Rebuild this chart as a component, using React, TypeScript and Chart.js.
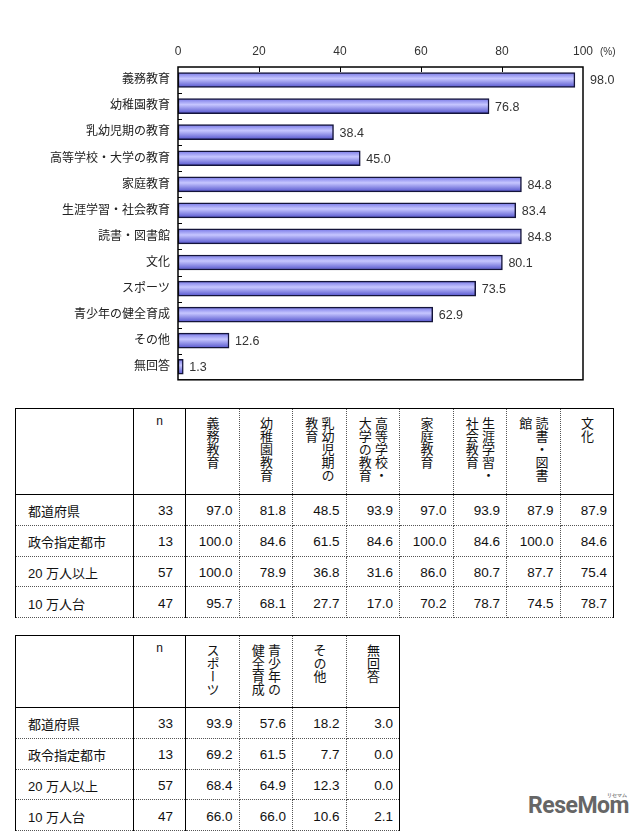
import { useEffect, useRef } from 'react';
import { Chart, registerables } from 'chart.js';

Chart.register(...registerables);

const FONT = '"Liberation Sans", "Noto Sans CJK JP", sans-serif';
const CJK = '"Noto Sans CJK JP", sans-serif';

// bar chart data
const categories = [
  '義務教育', '幼稚園教育', '乳幼児期の教育', '高等学校・大学の教育', '家庭教育',
  '生涯学習・社会教育', '読書・図書館', '文化', 'スポーツ', '青少年の健全育成', 'その他', '無回答',
];
const values = [98.0, 76.8, 38.4, 45.0, 84.8, 83.4, 84.8, 80.1, 73.5, 62.9, 12.6, 1.3];
const axisTicks = [0, 20, 40, 60, 80, 100];

// table data (12 columns, same order as the chart)
const rowLabels = ['都道府県', '政令指定都市', '20 万人以上', '10 万人台'];
const sampleSizes = [33, 13, 57, 47];
const prefValues = [97.0, 81.8, 48.5, 93.9, 97.0, 93.9, 87.9, 87.9, 93.9, 57.6, 18.2, 3.0];
const designatedValues = [100.0, 84.6, 61.5, 84.6, 100.0, 84.6, 100.0, 84.6, 69.2, 61.5, 7.7, 0.0];
const over200kValues = [100.0, 78.9, 36.8, 31.6, 86.0, 80.7, 87.7, 75.4, 68.4, 64.9, 12.3, 0.0];
const range100kValues = [95.7, 68.1, 27.7, 17.0, 70.2, 78.7, 74.5, 78.7, 66.0, 66.0, 10.6, 2.1];
const rowValues = [prefValues, designatedValues, over200kValues, range100kValues];

const headers1 = [['義務教育'], ['幼稚園教育'], ['乳幼児期の', '教育'], ['高等学校・', '大学の教育'],
  ['家庭教育'], ['生涯学習・', '社会教育'], ['読書・図書', '館'], ['文化']];
const headers2 = [['スポーツ'], ['青少年の', '健全育成'], ['その他'], ['無回答']];

const barFill = (c: any) => {
  const chart = c.chart;
  const y = chart.scales && chart.scales.y;
  if (!y || c.dataIndex === undefined) return '#9a9af5';
  const mid = y.getPixelForValue(c.dataIndex);
  if (!Number.isFinite(mid)) return '#9a9af5';
  const g = chart.ctx.createLinearGradient(0, mid - 7.5, 0, mid + 7.5);
  g.addColorStop(0, '#7676e6');
  g.addColorStop(0.4, '#c6c6ff');
  g.addColorStop(1, '#5252cc');
  return g;
};

const decorPlugin = {
  id: 'decor',
  afterDatasetsDraw(chart: any) {
    const { ctx, chartArea } = chart;
    const { left, right, top, bottom } = chartArea;
    const x = chart.scales.x;
    const y = chart.scales.y;
    ctx.save();
    ctx.strokeStyle = '#000';
    ctx.lineWidth = 1.5;
    ctx.strokeRect(left, top, right - left, bottom - top);

    ctx.lineWidth = 1;
    ctx.beginPath();
    axisTicks.slice(1, -1).forEach((v) => {
      const px = Math.round(x.getPixelForValue(v)) + 0.5;
      ctx.moveTo(px, top);
      ctx.lineTo(px, top + 5);
    });
    for (let i = 1; i < categories.length; i++) {
      const py = Math.round((y.getPixelForValue(i - 1) + y.getPixelForValue(i)) / 2) + 0.5;
      ctx.moveTo(left, py);
      ctx.lineTo(left + 4, py);
    }
    ctx.stroke();

    ctx.fillStyle = '#333';
    ctx.font = `12.5px ${FONT}`;
    ctx.textAlign = 'left';
    ctx.textBaseline = 'middle';
    chart.getDatasetMeta(0).data.forEach((bar: any, i: number) => {
      const label = values[i].toFixed(1);
      let tx = bar.x + 6;
      // keep the label off the frame line
      if (tx + ctx.measureText(label).width > right - 2) tx = right + 7;
      ctx.fillText(label, tx, bar.y + 1);
    });

    ctx.font = `10px ${FONT}`;
    ctx.fillText('(%)', x.getPixelForValue(100) + 17, 52);
    ctx.restore();
  },
};

function BarChart() {
  const canvasRef = useRef<HTMLCanvasElement>(null);

  useEffect(() => {
    if (!canvasRef.current) return;
    const chart = new Chart(canvasRef.current, {
      type: 'bar',
      data: {
        labels: categories,
        datasets: [{
          data: values,
          backgroundColor: barFill,
          borderColor: '#14143a',
          borderWidth: 1.5,
          borderSkipped: false,
          barThickness: 15,
        }],
      },
      options: {
        indexAxis: 'y',
        responsive: true,
        maintainAspectRatio: false,
        animation: false,
        layout: { padding: { left: 0, right: 57, top: 0, bottom: 13 } },
        plugins: { legend: { display: false }, tooltip: { enabled: false } },
        scales: {
          x: {
            position: 'top',
            min: 0,
            max: 100,
            afterBuildTicks: (s: any) => { s.ticks = axisTicks.map((v) => ({ value: v })); },
            ticks: { font: { family: FONT, size: 12 }, color: '#333', padding: 8 },
            grid: { display: false, drawTicks: false },
            border: { display: false },
            afterFit: (s: any) => { s.height = 67; },
          },
          y: {
            ticks: { font: { family: FONT, size: 12 }, color: '#222', padding: 8 },
            grid: { display: false, drawTicks: false },
            border: { display: false },
            afterFit: (s: any) => { s.width = 178; },
          },
        },
      } as any,
      plugins: [decorPlugin],
    });
    return () => chart.destroy();
  }, []);

  return (
    <div style={{ position: 'absolute', left: 0, top: 0, width: 640, height: 395 }}>
      <canvas ref={canvasRef}></canvas>
    </div>
  );
}

const SOLID = '1px solid #000';
const DOT = '1px dotted #555';

interface TableProps {
  headers: string[][];
  from: number;
  top: number;
  width: number;
  headerHeight: number;
}

function DataTable({ headers, from, top, width, headerHeight }: TableProps) {
  const last = headers.length - 1;
  const dataBorder = (j: number) => (j === last ? SOLID : DOT);
  return (
    <table style={{
      position: 'absolute', left: 15, top, width, borderCollapse: 'collapse', tableLayout: 'fixed',
      fontFamily: FONT, color: '#111',
    }}>
      <colgroup>
        <col style={{ width: 118 }} />
        <col style={{ width: 52 }} />
        {headers.map((_, j) => <col key={j} />)}
      </colgroup>
      <thead>
        <tr style={{ height: headerHeight }}>
          <th style={{ borderLeft: SOLID, borderRight: SOLID, borderTop: SOLID, borderBottom: SOLID }}></th>
          <th style={{
            borderRight: SOLID, borderTop: SOLID, borderBottom: SOLID, verticalAlign: 'top',
            fontWeight: 'normal', fontSize: 12, paddingTop: 5,
          }}>n</th>
          {headers.map((lines, j) => (
            <th key={j} style={{
              borderRight: dataBorder(j), borderTop: SOLID, borderBottom: SOLID, verticalAlign: 'top',
              fontWeight: 'normal', fontSize: 13, padding: '8px 0 0 0', textAlign: 'center',
            }}>
              <div style={{
                writingMode: 'vertical-rl', display: 'inline-block', lineHeight: 1.25, textAlign: 'left',
                fontFamily: CJK,
              }}>
                {lines.map((t, k) => <div key={k}>{t}</div>)}
              </div>
            </th>
          ))}
        </tr>
      </thead>
      <tbody>
        {rowLabels.map((label, r) => (
          <tr key={r} style={{ height: 30.8 }}>
            <td style={{ borderLeft: SOLID, borderRight: SOLID, borderBottom: DOT, paddingLeft: 12, fontSize: 13, paddingTop: 3 }}>{label}</td>
            <td style={{ borderRight: SOLID, borderBottom: DOT, textAlign: 'right', paddingRight: 12, fontSize: 13.5, paddingTop: 3 }}>{sampleSizes[r]}</td>
            {headers.map((_, j) => (
              <td key={j} style={{
                borderRight: dataBorder(j), borderBottom: DOT, textAlign: 'right', paddingRight: 6, fontSize: 13.5, paddingTop: 3,
              }}>{rowValues[r][from + j].toFixed(1)}</td>
            ))}
          </tr>
        ))}
      </tbody>
    </table>
  );
}

export default function App() {
  return (
    <div style={{ position: 'relative', width: 640, height: 832, background: '#fff', overflow: 'hidden' }}>
      <style>{'body{margin:0}'}</style>
      <BarChart />
      <DataTable headers={headers1} from={0} top={408} width={599} headerHeight={86} />
      <DataTable headers={headers2} from={8} top={635} width={385} headerHeight={72} />
      <div style={{
        position: 'absolute', left: 528, top: 792, fontFamily: 'Roboto, sans-serif', fontWeight: 'bold',
        fontSize: 23, letterSpacing: -0.5, color: '#666',
      }}>
        ReseMom
        <span style={{ position: 'absolute', right: 2, top: 0, fontSize: 5, letterSpacing: 0, color: '#777' }}>リセマム</span>
      </div>
    </div>
  );
}
